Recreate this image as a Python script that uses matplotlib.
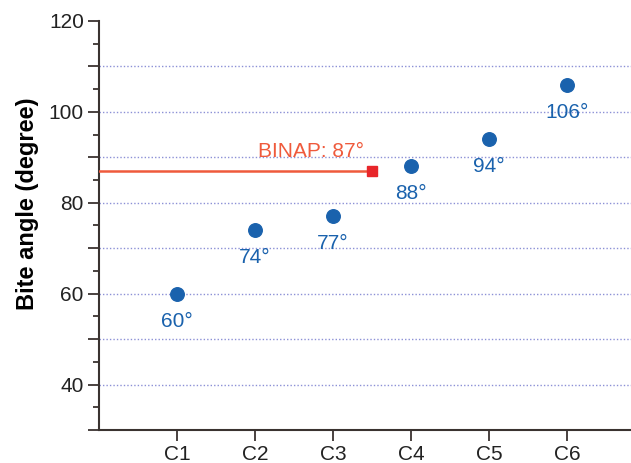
import matplotlib
matplotlib.use("Agg")
import matplotlib.pyplot as plt
from matplotlib.ticker import MultipleLocator, FuncFormatter

# data
ligands = ["C1", "C2", "C3", "C4", "C5", "C6"]
bite_angles = [60, 74, 77, 88, 94, 106]
binap_angle = 87
binap_label = "BINAP: 87°"

plt.rcParams['font.family'] = ['Liberation Sans', 'DejaVu Sans']

fig = plt.figure(figsize=(6.31, 4.63), dpi=100)
ax = fig.add_axes([0.157, 0.071, 0.843, 0.884])

blue = "#1a62ad"
orange = "#ef5a3c"

xs = list(range(1, len(ligands) + 1))
ax.scatter(xs, bite_angles, s=95, color=blue, zorder=4)
for x, v in zip(xs, bite_angles):
    ax.annotate(f"{v}°", (x, v), xytext=(0, -13), textcoords="offset points",
                ha="center", va="top", fontsize=15, color=blue, zorder=5)

# BINAP reference line
ax.plot([0, 3.5], [binap_angle, binap_angle], color=orange, lw=1.8, zorder=3)
ax.plot([3.5], [binap_angle], marker="s", ms=7, color="#e8262a", zorder=4)
ax.text(2.72, binap_angle + 2.1, binap_label, ha="center", va="bottom",
        fontsize=15, color=orange)

# grid lines
for g in range(40, 120, 10):
    ax.axhline(g, color="#8c90d6", lw=1.0, ls=(0, (1, 1.5)), zorder=1)

ax.set_xlim(0, 6.82)
ax.set_ylim(30, 120)
ax.set_xticks(xs)
ax.set_xticklabels(ligands)
ax.yaxis.set_major_locator(MultipleLocator(10))
ax.yaxis.set_minor_locator(MultipleLocator(5))
ax.yaxis.set_major_formatter(FuncFormatter(lambda v, p: f"{int(v)}" if v % 20 == 0 and v >= 40 else ""))

ax.spines["top"].set_visible(False)
ax.spines["right"].set_visible(False)
for s in ("left", "bottom"):
    ax.spines[s].set_color("#3a3330")
    ax.spines[s].set_linewidth(1.5)
ax.tick_params(axis="both", which="major", length=8, width=1.3, color="#3a3330",
               labelsize=15, labelcolor="#222222", pad=3)
ax.tick_params(axis="y", which="minor", length=4, width=1.3, color="#3a3330")

ax.set_ylabel("Bite angle (degree)", fontsize=17, fontweight="bold")
ax.yaxis.set_label_coords(-0.113, 0.553)

fig.savefig("out.png", dpi=100)
